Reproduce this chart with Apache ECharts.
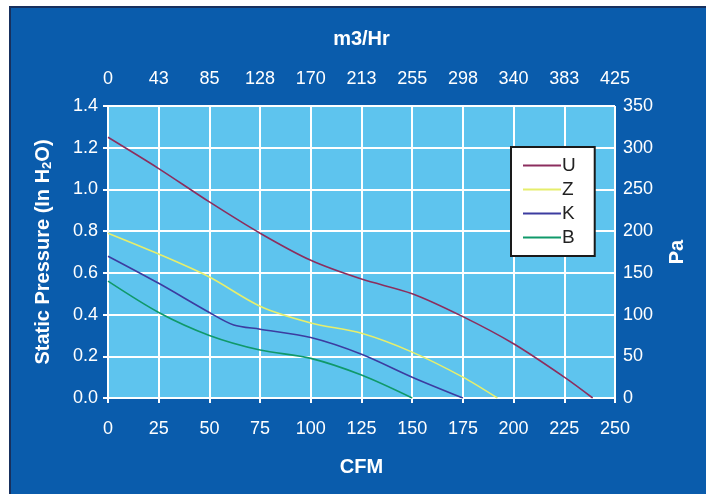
<!DOCTYPE html>
<html>
<head>
<meta charset="utf-8">
<script src="https://cdn.jsdelivr.net/npm/echarts@6/dist/echarts.min.js"></script>
<style>
  html, body { margin: 0; padding: 0; background: #fff; }
  #chart { width: 706px; height: 494px; }
</style>
</head>
<body>
<div id="chart"></div>
<script>
// fan curves, CFM vs static pressure (in H2O)
const seriesNames = ['U', 'Z', 'K', 'B']
const curveU = [[0, 1.25], [25, 1.10], [50, 0.94], [75, 0.79], [100, 0.66], [125, 0.57], [150, 0.50], [175, 0.39], [200, 0.26], [225, 0.10], [239, 0]]
const curveZ = [[0, 0.79], [25, 0.69], [50, 0.58], [75, 0.44], [100, 0.36], [125, 0.31], [150, 0.22], [175, 0.10], [192, 0]]
const curveK = [[0, 0.68], [25, 0.55], [50, 0.41], [62, 0.35], [75, 0.33], [100, 0.29], [125, 0.21], [150, 0.10], [175, 0]]
const curveB = [[0, 0.56], [25, 0.41], [50, 0.30], [75, 0.23], [100, 0.19], [125, 0.11], [150, 0]]
const topLabels = ['0', '43', '85', '128', '170', '213', '255', '298', '340', '383', '425']

const colors = ['#8c2e5e', '#e6ee6c', '#3c3ca0', '#10996a']
const font = 'Liberation Sans, Arial, sans-serif'
const white = '#ffffff'

const axisCommon = {
  axisLine: { show: true, lineStyle: { color: white, width: 2 } },
  axisTick: { show: true, inside: false, length: 5, lineStyle: { color: white, width: 2 } },
  axisLabel: { color: white, fontSize: 18, fontFamily: font },
  nameTextStyle: { color: white, fontSize: 20, fontWeight: 'bold', fontFamily: font }
}

const chart = echarts.init(document.getElementById('chart'), null, { renderer: 'canvas' })
chart.setOption({
  animation: false,
  backgroundColor: '#ffffff',
  graphic: [{
    type: 'rect',
    z: -10,
    shape: { x: 10, y: 7, width: 700, height: 490 },
    style: { fill: '#0a5cac', stroke: '#17305e', lineWidth: 2 }
  }],
  grid: {
    left: 108, right: 91, top: 106, bottom: 96,
    show: true, backgroundColor: '#5ec4ee', borderWidth: 0
  },
  legend: {
    data: seriesNames,
    left: 511, top: 147,
    orient: 'vertical',
    backgroundColor: '#ffffff',
    borderColor: '#1a1a1a',
    borderWidth: 2,
    borderRadius: 0,
    padding: [9, 19, 9, 12],
    itemGap: 5,
    itemWidth: 38,
    itemHeight: 2,
    icon: 'rect',
    textStyle: { color: '#222', fontSize: 19, fontFamily: font, padding: [0, 0, 0, -4] }
  },
  xAxis: [
    Object.assign({}, axisCommon, {
      type: 'value', position: 'bottom',
      min: 0, max: 250, interval: 25,
      name: 'CFM', nameLocation: 'middle', nameGap: 59,
      splitLine: { show: true, lineStyle: { color: white, width: 2 } },
      axisLabel: Object.assign({}, axisCommon.axisLabel, { margin: 22 })
    }),
    Object.assign({}, axisCommon, {
      type: 'value', position: 'top',
      min: 0, max: 250, interval: 25,
      name: 'm3/Hr', nameLocation: 'middle', nameGap: 57,
      splitLine: { show: false },
      axisLabel: Object.assign({}, axisCommon.axisLabel, {
        margin: 18,
        formatter: v => topLabels[Math.round(v / 25)]
      })
    })
  ],
  yAxis: [
    Object.assign({}, axisCommon, {
      type: 'value', position: 'left',
      min: 0, max: 1.4, interval: 0.2,
      name: 'Static Pressure (In H{sub|2}O)', nameLocation: 'middle', nameGap: 54,
      nameTextStyle: Object.assign({}, axisCommon.nameTextStyle, {
        rich: { sub: { color: white, fontSize: 13, fontWeight: 'bold', fontFamily: font, verticalAlign: 'bottom', padding: [9, 0, 0, 0] } }
      }),
      splitLine: { show: true, lineStyle: { color: white, width: 2 } },
      axisLabel: Object.assign({}, axisCommon.axisLabel, { margin: 10, formatter: v => v.toFixed(1) })
    }),
    Object.assign({}, axisCommon, {
      type: 'value', position: 'right',
      min: 0, max: 350, interval: 50,
      name: 'Pa', nameLocation: 'middle', nameGap: 52,
      nameRotate: 90,
      splitLine: { show: false },
      axisLabel: Object.assign({}, axisCommon.axisLabel, { margin: 8 })
    })
  ],
  series: [curveU, curveZ, curveK, curveB].map((d, i) => ({
    name: seriesNames[i],
    type: 'line',
    data: d,
    smooth: 0.3,
    showSymbol: false,
    xAxisIndex: 0,
    yAxisIndex: 0,
    lineStyle: { color: colors[i], width: 1.6 },
    itemStyle: { color: colors[i] }
  }))
})
</script>
</body>
</html>
